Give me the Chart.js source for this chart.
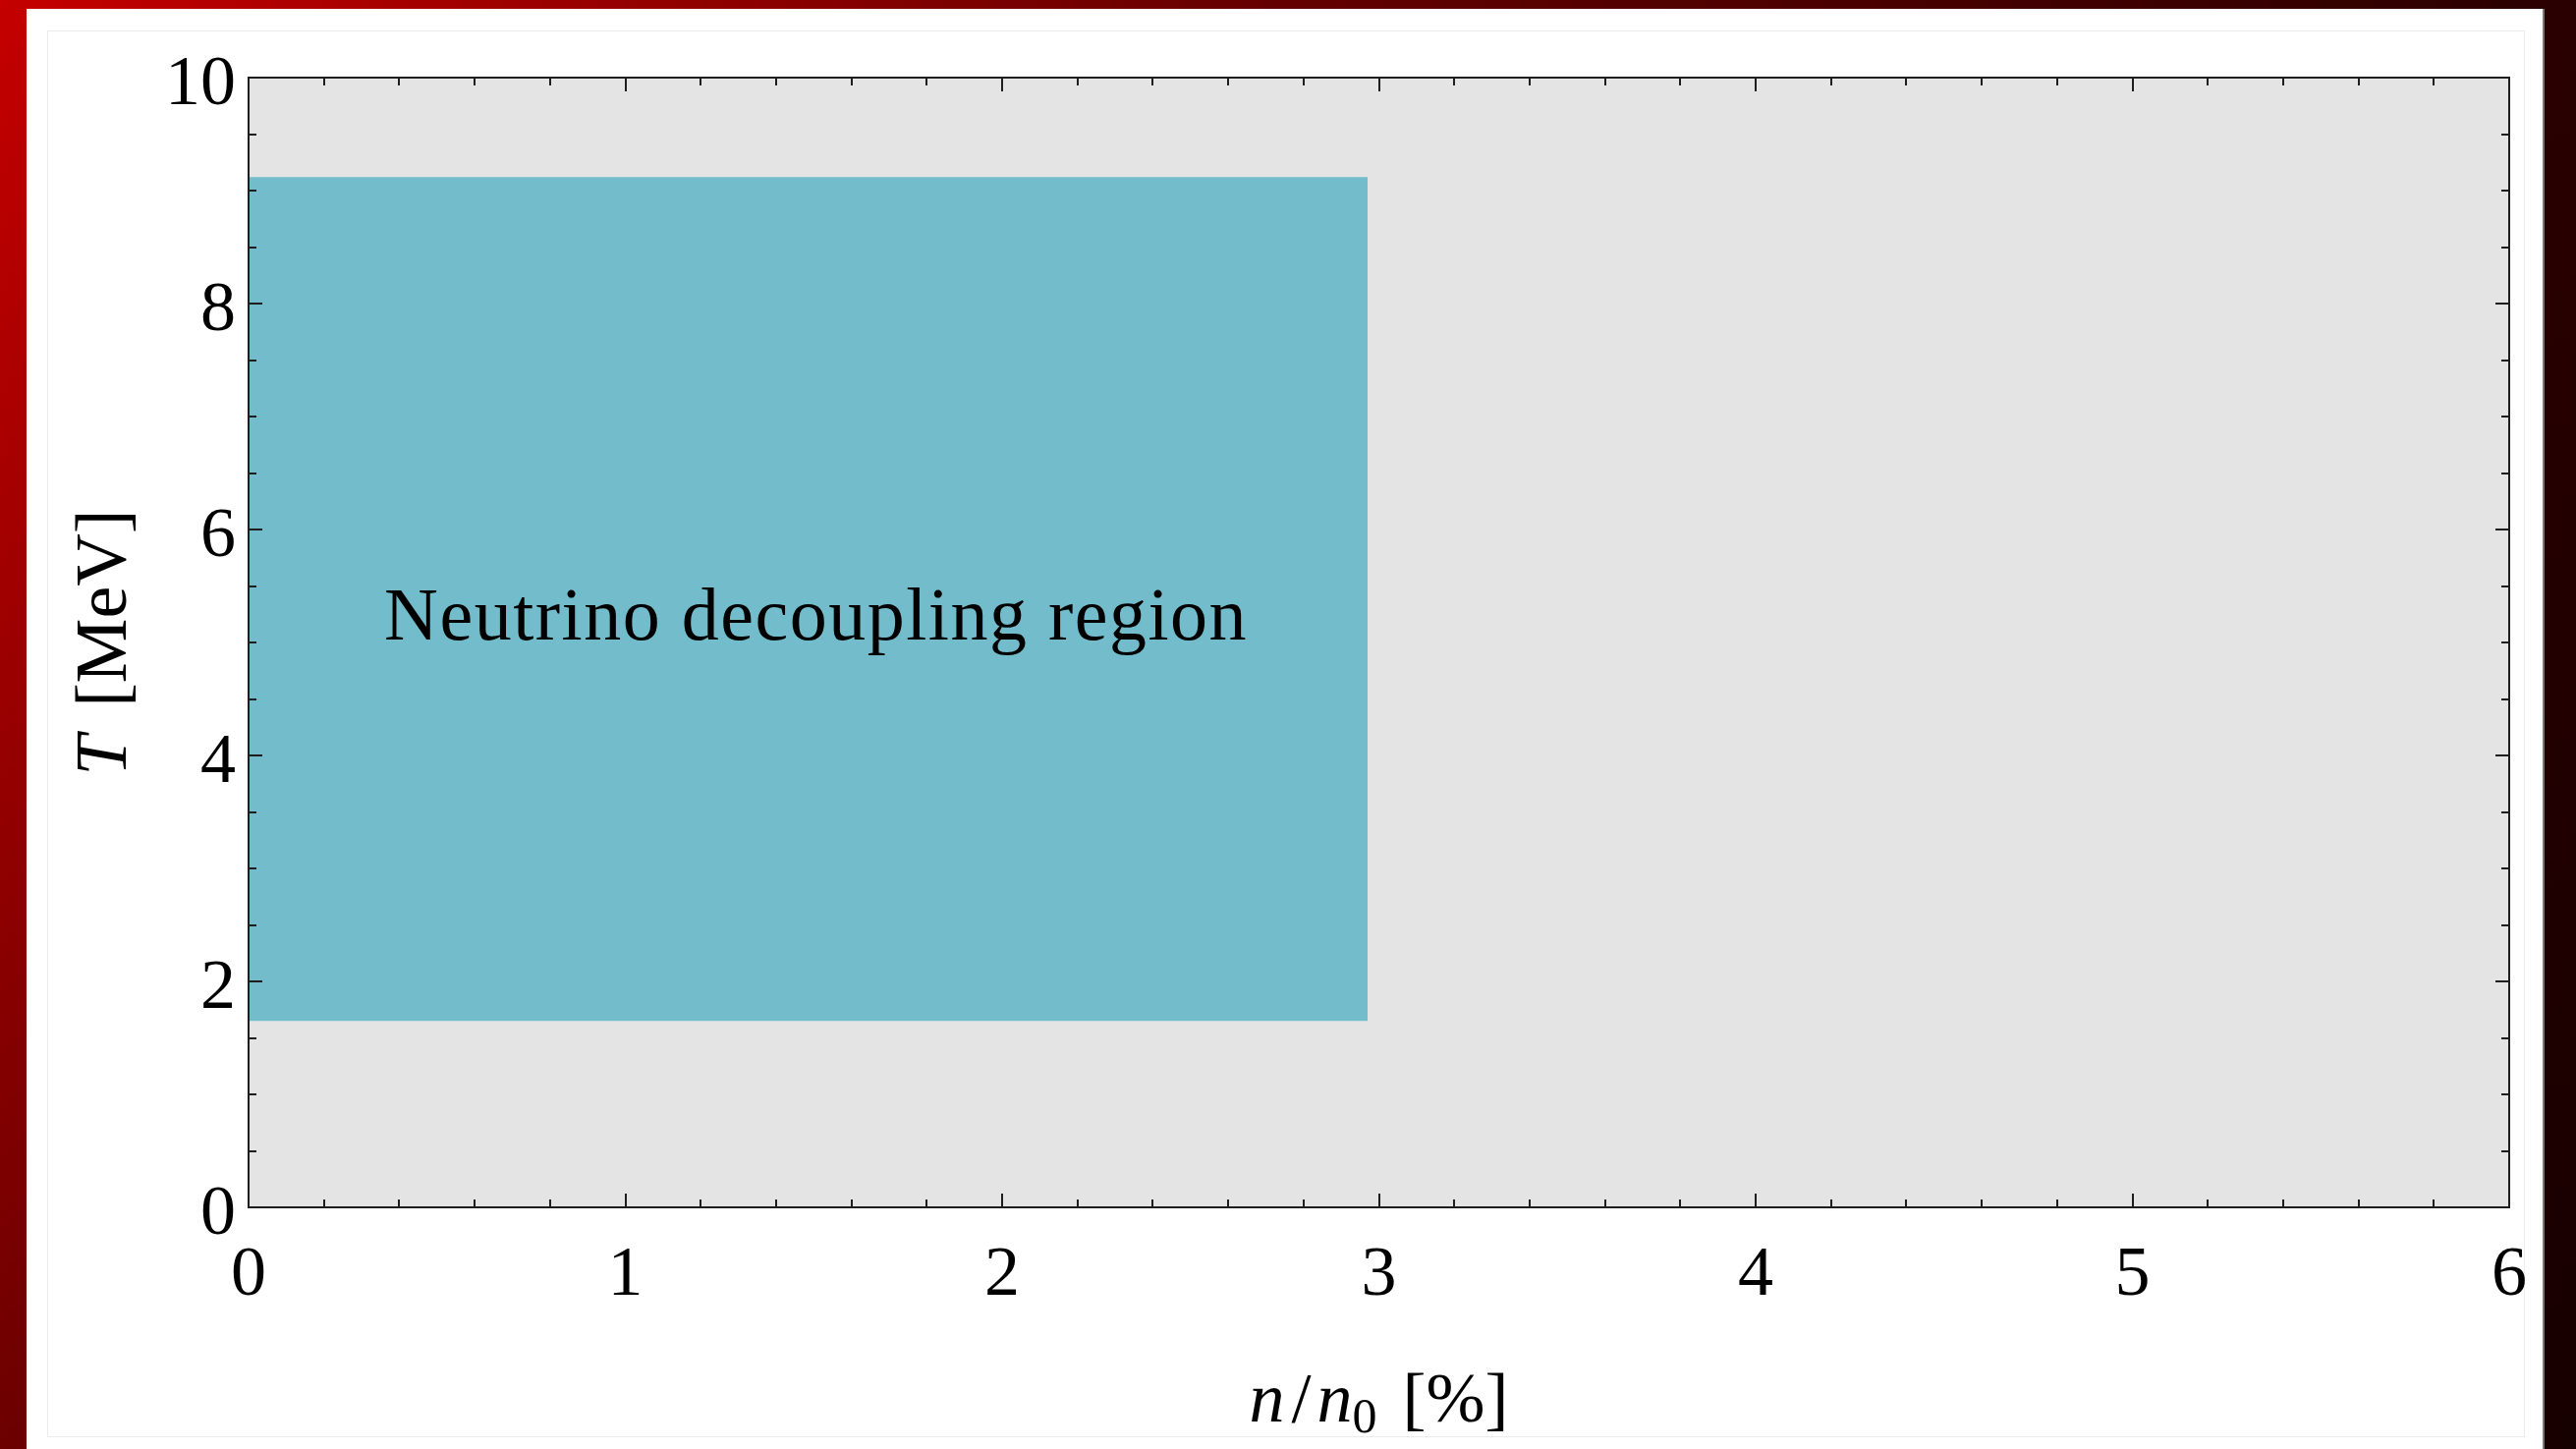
<!doctype html>
<html lang="en">
  <head>
    <meta charset="UTF-8" />
    <title>Neutrino decoupling region</title>
    <style>
      html, body {
        margin: 0;
        padding: 0;
        width: 2622px;
        height: 1475px;
        overflow: hidden;
        background:
          linear-gradient(to bottom, rgba(0, 0, 0, 0) 0%, rgba(0, 0, 0, 0.45) 100%),
          linear-gradient(to right, #c40000 0%, #640000 50%, #2a0000 100%);
      }
      #card {
        position: absolute;
        left: 27px;
        top: 9px;
        width: 2561px;
        height: 1490px;
        background: #fff;
        border-right: 2px solid #777;
      }
      #box {
        position: absolute;
        left: 48px;
        top: 31px;
        width: 2520px;
        height: 1430px;
        border: 1px solid #ececec;
      }
      #wrap {
        position: absolute;
        left: 0;
        top: 0;
        width: 2622px;
        height: 1475px;
      }
    </style>
  </head>

  <body>
    <div id="card"></div>
    <div id="box"></div>
    <div id="wrap"><canvas id="chart"></canvas></div>

    <script src="https://cdn.jsdelivr.net/npm/chart.js@4"></script>

    <script>
      // axis ranges and ticks
      const xRange = [0, 6]
      const yRange = [0, 10]
      const xMajorStep = 1
      const xMinorStep = 0.2
      const yMajorStep = 2
      const yMinorStep = 0.5

      // shaded region: n/n0 [%] and T [MeV]
      const regionN = [0, 2.97]
      const regionT = [1.65, 9.12]
      const regionLabel = 'Neutrino decoupling region'
      const regionLabelAt = [0.36, 5.03]

      const SERIF = "'Liberation Serif', 'DejaVu Serif', serif"
      const PLOT_BG = '#e4e4e4'
      const REGION_COLOR = '#72bccc'
      const FRAME_COLOR = '#1e1e1e'

      const plotBackground = {
        id: 'plotBackground',
        beforeDraw(chart) {
          const { ctx, chartArea: a } = chart
          ctx.save()
          ctx.fillStyle = PLOT_BG
          ctx.fillRect(a.left, a.top, a.right - a.left, a.bottom - a.top)
          ctx.restore()
        },
      }

      // frame with inward major/minor ticks on all four sides
      const frameTicks = {
        id: 'frameTicks',
        afterDatasetsDraw(chart) {
          const { ctx, chartArea: a } = chart
          const xs = chart.scales.x
          const ys = chart.scales.y
          ctx.save()
          ctx.strokeStyle = FRAME_COLOR
          ctx.lineWidth = 2
          ctx.beginPath()
          const eps = 1e-6
          for (let v = xRange[0]; v <= xRange[1] + eps; v += xMinorStep) {
            const major = Math.abs(v / xMajorStep - Math.round(v / xMajorStep)) < 1e-6
            const len = major ? 14 : 8
            const px = Math.round(xs.getPixelForValue(v))
            ctx.moveTo(px, a.bottom)
            ctx.lineTo(px, a.bottom - len)
            ctx.moveTo(px, a.top)
            ctx.lineTo(px, a.top + len)
          }
          for (let v = yRange[0]; v <= yRange[1] + eps; v += yMinorStep) {
            const major = Math.abs(v / yMajorStep - Math.round(v / yMajorStep)) < 1e-6
            const len = major ? 14 : 8
            const py = Math.round(ys.getPixelForValue(v))
            ctx.moveTo(a.left, py)
            ctx.lineTo(a.left + len, py)
            ctx.moveTo(a.right, py)
            ctx.lineTo(a.right - len, py)
          }
          ctx.stroke()
          ctx.strokeRect(a.left, a.top, a.right - a.left, a.bottom - a.top)

          // region label
          ctx.fillStyle = '#000'
          ctx.font = `76px ${SERIF}`
          ctx.letterSpacing = '1.5px'
          ctx.textAlign = 'left'
          ctx.textBaseline = 'alphabetic'
          ctx.fillText(regionLabel, xs.getPixelForValue(regionLabelAt[0]), ys.getPixelForValue(regionLabelAt[1]))
          ctx.restore()
        },
      }

      // draw a run of text pieces (italic / upright / subscript)
      function drawPieces(ctx, pieces, cx, baseline, size) {
        const fontOf = (p) => `${p.it ? 'italic ' : ''}${p.sub ? Math.round(size * 0.7) : size}px ${SERIF}`
        let total = 0
        pieces.forEach((p) => {
          ctx.font = fontOf(p)
          total += ctx.measureText(p.t).width + (p.gap || 0)
        })
        let x = cx - total / 2
        pieces.forEach((p) => {
          ctx.font = fontOf(p)
          ctx.fillText(p.t, x, baseline + (p.sub ? size * 0.15 : 0))
          x += ctx.measureText(p.t).width + (p.gap || 0)
        })
      }

      const axisTitles = {
        id: 'axisTitles',
        afterDraw(chart) {
          const { ctx, chartArea: a } = chart
          ctx.save()
          ctx.fillStyle = '#000'
          ctx.textAlign = 'left'
          ctx.textBaseline = 'alphabetic'

          drawPieces(
            ctx,
            [
              { t: 'n', it: true, gap: 7 },
              { t: '/', gap: 6 },
              { t: 'n', it: true },
              { t: '0', sub: true, gap: 8 },
              { t: ' [%]' },
            ],
            (a.left + a.right) / 2,
            a.bottom + 218,
            72
          )

          ctx.translate(a.left - 125, (a.top + a.bottom) / 2)
          ctx.rotate(-Math.PI / 2)
          drawPieces(ctx, [{ t: 'T', it: true, gap: 10 }, { t: ' [MeV]' }], 0, 0, 74)
          ctx.restore()
        },
      }

      new Chart(document.getElementById('chart'), {
        type: 'scatter',
        data: {
          datasets: [
            {
              label: regionLabel,
              data: [
                { x: regionN[0], y: regionT[1] },
                { x: regionN[1], y: regionT[1] },
              ],
              showLine: true,
              borderWidth: 0,
              pointRadius: 0,
              backgroundColor: REGION_COLOR,
              fill: { value: regionT[0] },
            },
          ],
        },
        options: {
          responsive: true,
          maintainAspectRatio: false,
          animation: false,
          events: [],
          layout: { padding: { left: 53, right: 68, top: 79, bottom: 46 } },
          plugins: {
            legend: { display: false },
            tooltip: { enabled: false },
          },
          scales: {
            x: {
              type: 'linear',
              min: xRange[0],
              max: xRange[1],
              afterFit: (s) => { s.height = 200 },
              grid: { display: false, drawTicks: false },
              border: { display: false },
              ticks: {
                stepSize: xMajorStep,
                padding: 27,
                color: '#000',
                font: { family: SERIF, size: 72 },
                maxRotation: 0,
              },
            },
            y: {
              type: 'linear',
              min: yRange[0],
              max: yRange[1],
              afterFit: (s) => { s.width = 200 },
              grid: { display: false, drawTicks: false },
              border: { display: false },
              ticks: {
                stepSize: yMajorStep,
                padding: 13,
                labelOffset: 8,
                color: '#000',
                font: { family: SERIF, size: 72 },
              },
            },
          },
        },
        plugins: [plotBackground, frameTicks, axisTitles],
      })
    </script>
  </body>
</html>
